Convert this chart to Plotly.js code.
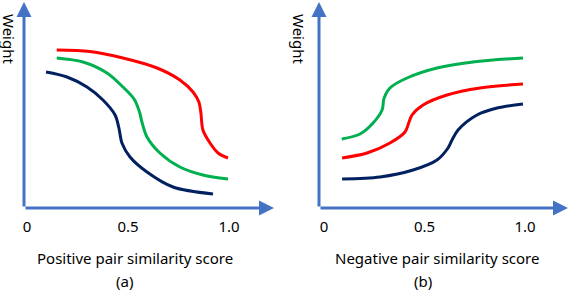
<!DOCTYPE html>
<html>
<head>
<meta charset="utf-8">
<script src="https://cdn.plot.ly/plotly-3.0.1.min.js"></script>
<style>html,body{margin:0;padding:0;background:#fff;}#chart{width:570px;height:292px;}</style>
</head>
<body>
<div id="chart"></div>
<script>
// Panel (a): positive pair similarity score vs weight
const posRedX   = [0.147, 0.312, 0.475, 0.644, 0.757, 0.822, 0.851, 0.861, 0.871, 0.906, 0.946, 0.995];
const posRedY   = [0.79, 0.782, 0.75, 0.70, 0.64, 0.58, 0.53, 0.475, 0.39, 0.325, 0.275, 0.25];
const posGreenX = [0.147, 0.277, 0.396, 0.475, 0.530, 0.557, 0.569, 0.594, 0.658, 0.757, 0.871, 0.995];
const posGreenY = [0.75, 0.73, 0.675, 0.605, 0.545, 0.48, 0.43, 0.355, 0.275, 0.205, 0.165, 0.145];
const posNavyX  = [0.094, 0.198, 0.297, 0.376, 0.436, 0.455, 0.470, 0.510, 0.594, 0.723, 0.921];
const posNavyY  = [0.68, 0.655, 0.605, 0.54, 0.465, 0.40, 0.325, 0.255, 0.18, 0.105, 0.07];
// Panel (b): negative pair similarity score vs weight
const negGreenX = [0.088, 0.179, 0.244, 0.289, 0.299, 0.328, 0.413, 0.562, 0.741, 0.990];
const negGreenY = [0.345, 0.37, 0.425, 0.49, 0.55, 0.60, 0.65, 0.70, 0.73, 0.75];
const negRedX   = [0.090, 0.214, 0.328, 0.403, 0.423, 0.438, 0.493, 0.612, 0.776, 0.990];
const negRedY   = [0.25, 0.275, 0.325, 0.38, 0.43, 0.465, 0.515, 0.565, 0.60, 0.62];
const negNavyX  = [0.090, 0.279, 0.443, 0.562, 0.617, 0.637, 0.667, 0.761, 0.861, 0.990];
const negNavyY  = [0.145, 0.155, 0.19, 0.24, 0.30, 0.34, 0.39, 0.465, 0.50, 0.52];

const tickVals = [0, 0.5, 1];
const tickText = ['0', '0.5', '1.0'];
const xTitles = ['Positive pair similarity score', 'Negative pair similarity score'];
const panelLabels = ['(a)', '(b)'];
const yTitle = 'Weight';

const RED = '#FF0000', GREEN = '#00B050', NAVY = '#002060', AX = '#4472C4';
const FONT = 'Noto Sans, Open Sans, sans-serif';
const W = 570, H = 292;
const px = v => v / W, py = v => 1 - v / H;

function tr(x, y, c, xa, ya) {
  return {x: x, y: y, xaxis: xa, yaxis: ya, type: 'scatter', mode: 'lines',
    line: {color: c, width: 3, shape: 'spline', smoothing: 0.9}, hoverinfo: 'skip'};
}
const data = [
  tr(posRedX, posRedY, RED, 'x', 'y'),
  tr(posGreenX, posGreenY, GREEN, 'x', 'y'),
  tr(posNavyX, posNavyY, NAVY, 'x', 'y'),
  tr(negGreenX, negGreenY, GREEN, 'x2', 'y2'),
  tr(negRedX, negRedY, RED, 'x2', 'y2'),
  tr(negNavyX, negNavyY, NAVY, 'x2', 'y2')
];

const xr1 = [-0.015, 1.223], xr2 = [-0.025, 1.214], yr = [0, 1.03];
function xaxis(domain, range) {
  return {domain: domain, range: range, showgrid: false, zeroline: false, showline: false,
    tickvals: tickVals, ticktext: tickText, ticks: 'outside', ticklen: 5, tickcolor: 'rgba(0,0,0,0)',
    tickfont: {family: FONT, size: 15, color: '#000'}, fixedrange: true};
}
function yaxis(anchor) {
  return {domain: [py(208), py(2)], range: yr, anchor: anchor, showgrid: false, zeroline: false,
    showline: false, showticklabels: false, ticks: '', fixedrange: true};
}
function arrow(xref, yref, x0, y0, x1, y1) {
  return {xref: xref, yref: yref, axref: xref, ayref: yref, x: x1, y: y1, ax: x0, ay: y0,
    text: '', showarrow: true, arrowhead: 2, arrowsize: 1, arrowwidth: 3, arrowcolor: AX, standoff: 0, startstandoff: 0};
}
function label(text, x, y, size, angle) {
  return {xref: 'paper', yref: 'paper', x: px(x), y: py(y), text: text, showarrow: false,
    xanchor: 'center', yanchor: 'middle', textangle: angle || 0,
    font: {family: FONT, size: size, color: '#000'}};
}
const layout = {
  width: W, height: H, margin: {l: 0, r: 0, t: 0, b: 0}, showlegend: false,
  paper_bgcolor: '#fff', plot_bgcolor: '#fff',
  xaxis: xaxis([px(24), px(274)], xr1), yaxis: yaxis('x'),
  xaxis2: xaxis([px(319), px(568)], xr2), yaxis2: yaxis('x2'),
  annotations: [
    arrow('x', 'y', xr1[0], 0, xr1[1], 0),
    arrow('x', 'y', xr1[0], 0, xr1[0], yr[1]),
    arrow('x2', 'y2', xr2[0], 0, xr2[1], 0),
    arrow('x2', 'y2', xr2[0], 0, xr2[0], yr[1]),
    label(xTitles[0], 135, 258, 15),
    label(xTitles[1], 437, 258, 15),
    label(panelLabels[0], 124, 281, 15),
    label(panelLabels[1], 423, 281, 15),
    label(yTitle, 9, 39, 15, 90),
    label(yTitle, 299, 39, 15, 90)
  ]
};
Plotly.newPlot('chart', data, layout, {staticPlot: true, displayModeBar: false});
</script>
</body>
</html>
